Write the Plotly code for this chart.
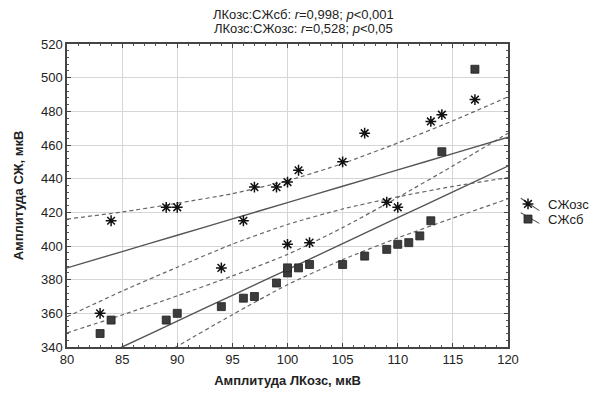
import plotly.graph_objects as go

# --- data ---
ozs_x = [83, 84, 89, 90, 94, 96, 97, 99, 100, 100, 101, 102, 105, 107, 109, 110, 113, 114, 117]
ozs_y = [360, 415, 423, 423, 387, 415, 435, 435, 438, 401, 445, 402, 450, 467, 426, 423, 474, 478, 487]

sb_x = [83, 84, 89, 90, 94, 96, 97, 99, 100, 100, 101, 102, 105, 107, 109, 110, 111, 112, 113, 114, 117]
sb_y = [348, 356, 356, 360, 364, 369, 370, 378, 384, 387, 387, 389, 389, 394, 398, 401, 402, 406, 415, 456, 505]

# regression lines and 95% bands, read at x positions
band_x = [80, 85, 90, 95, 100, 105, 110, 115, 120]
ozs_fit = [387, 396.7, 406.4, 416.1, 425.8, 435.5, 445.2, 454.9, 464.6]
ozs_up = [416, 420.2, 425.4, 431.1, 438.8, 449, 461.2, 474.4, 488.6]
ozs_lo = [358, 373.2, 387.4, 401.1, 412.8, 422, 429.2, 435.4, 440.6]
sb_fit = [324.7, 340, 355.4, 370.7, 386, 401.4, 416.8, 432.1, 447.5]
sb_up = [348.4, 359, 370.4, 382.2, 395, 410.9, 428.8, 447.6, 467]
sb_lo = [300.9, 321, 340.4, 359.2, 377, 391.9, 404.8, 416.6, 428]

x_ticks = [80, 85, 90, 95, 100, 105, 110, 115, 120]
y_ticks = [340, 360, 380, 400, 420, 440, 460, 480, 500, 520]

title_lines = [
    "ЛКозс:СЖсб: <i>r</i>=0,998; <i>p</i><0,001",
    "ЛКозс:СЖозс: <i>r</i>=0,528; <i>p</i><0,05",
]

FONT = "Liberation Sans, Arial, sans-serif"
SOLID = "#555555"
DASH = "#666666"

fig = go.Figure()

for yy, kind in [(ozs_up, "d"), (ozs_lo, "d"), (sb_up, "d"), (sb_lo, "d"), (ozs_fit, "s"), (sb_fit, "s")]:
    fig.add_trace(go.Scatter(
        x=band_x, y=yy, mode="lines", showlegend=False, hoverinfo="skip",
        line=dict(color=SOLID if kind == "s" else DASH,
                  width=1.4 if kind == "s" else 1.2,
                  dash="solid" if kind == "s" else "4px,3px",
                  shape="spline", smoothing=0.6),
    ))

fig.add_trace(go.Scatter(
    x=ozs_x, y=ozs_y, mode="markers", name="СЖозс", legend="legend",
    marker=dict(symbol="asterisk-open", size=9, color="#111111",
                line=dict(color="#111111", width=1.5)),
))
fig.add_trace(go.Scatter(
    x=sb_x, y=sb_y, mode="markers", name="СЖсб", legend="legend2",
    marker=dict(symbol="square", size=8, color="#3c3c3c",
                line=dict(color="#222222", width=0.8)),
))

for txt, shift in zip(title_lines, [30, 16]):
    fig.add_annotation(
        text=txt, xref="paper", yref="paper", x=0.537, y=1.0, yshift=shift,
        xanchor="center", yanchor="middle", showarrow=False,
        font=dict(family=FONT, size=13, color="#222222"),
    )

# diagonal strokes behind legend symbols (Statistica style)
for y0, y1 in [(0.491, 0.450), (0.443, 0.408)]:
    fig.add_shape(type="line", xref="paper", yref="paper",
                  x0=1.029, x1=1.071, y0=y0, y1=y1,
                  line=dict(color="#555555", width=1.1), layer="above")

axis_common = dict(
    showgrid=True, gridcolor="#d6d6d6", gridwidth=1,
    showline=True, linecolor="#444444", linewidth=1.5, mirror="ticks",
    ticks="inside", ticklen=4, tickcolor="#444444",
    tickfont=dict(family=FONT, size=13, color="#222222"),
    zeroline=False, automargin=False,
)

fig.update_xaxes(
    range=[80, 120], tickvals=x_ticks, ticktext=[str(v) for v in x_ticks],
    minor=dict(dtick=1, ticks="inside", ticklen=2, tickcolor="#555555", showgrid=False),
    title=dict(text="<b>Амплитуда ЛКозс, мкВ</b>", font=dict(family=FONT, size=13, color="#222222"), standoff=10),
    **axis_common,
)
fig.update_yaxes(
    range=[340, 520], tickvals=y_ticks, ticktext=[str(v) for v in y_ticks],
    minor=dict(dtick=4, ticks="inside", ticklen=2, tickcolor="#555555", showgrid=False),
    title=dict(text="<b>Амплитуда СЖ, мкВ</b>", font=dict(family=FONT, size=13, color="#222222"), standoff=14),
    **axis_common,
)

leg_common = dict(xanchor="left", yanchor="middle", font=dict(family=FONT, size=13, color="#222222"),
                  bgcolor="rgba(0,0,0,0)", itemwidth=30, borderwidth=0)
fig.update_layout(
    width=592, height=385,
    margin=dict(l=59, r=92, t=36, b=46, autoexpand=False),
    paper_bgcolor="white", plot_bgcolor="white",
    font=dict(family=FONT, size=13, color="#222222"),
    showlegend=True,
    legend=dict(x=1.0, y=0.472, **leg_common),
    legend2=dict(x=1.0, y=0.422, **leg_common),
)

fig.write_html("out.html")
